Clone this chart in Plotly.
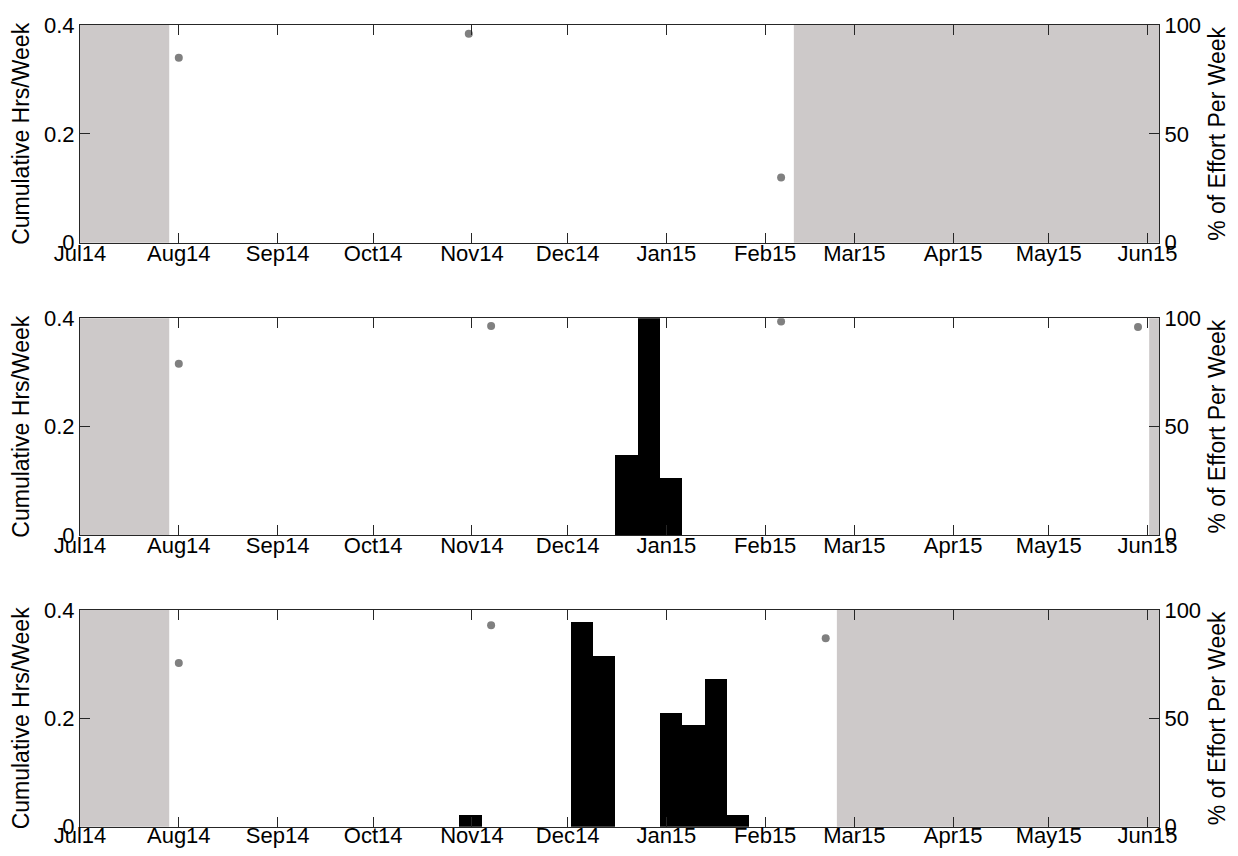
import pandas as pd
import plotly.graph_objects as go

# x-axis span and month ticks
x_start = "2014-07-01"
x_end = "2015-06-04 14:00"

# weekly cumulative hours (week start dates) per panel
weeks_1 = []
hours_1 = []
weeks_2 = ["2014-12-16", "2014-12-23", "2014-12-30"]
hours_2 = [0.148, 0.40, 0.105]
weeks_3 = ["2014-10-28", "2014-12-02", "2014-12-09", "2014-12-30",
           "2015-01-06", "2015-01-13", "2015-01-20"]
hours_3 = [0.021, 0.377, 0.315, 0.21, 0.188, 0.272, 0.021]

# % of effort per week (grey dots)
eff_dates_1 = ["2014-08-01", "2014-10-31", "2015-02-06"]
eff_pct_1 = [85, 96, 30]
eff_dates_2 = ["2014-08-01", "2014-11-07", "2015-02-06", "2015-05-29"]
eff_pct_2 = [79, 96.5, 98.5, 96]
eff_dates_3 = ["2014-08-01", "2014-11-07", "2015-02-20"]
eff_pct_3 = [75.5, 93, 87]

# periods without recording effort (grey shading)
off_1 = [("2014-07-01", "2014-07-29"), ("2015-02-10", x_end)]
off_2 = [("2014-07-01", "2014-07-29"), ("2015-06-01 12:00", x_end)]
off_3 = [("2014-07-01", "2014-07-29"), ("2015-02-23 12:00", x_end)]

panels = [
    (weeks_1, hours_1, eff_dates_1, eff_pct_1, off_1),
    (weeks_2, hours_2, eff_dates_2, eff_pct_2, off_2),
    (weeks_3, hours_3, eff_dates_3, eff_pct_3, off_3),
]

# page body has an 8px margin, so the figure is a bit smaller than the window
PAD = 8
W, H = 1238 - 2 * PAD, 856 - 2 * PAD
FONT = "Liberation Sans, Arial, sans-serif"
FS = 22
GREY = "#cdc9c9"
AX = "#262626"
week_ms = 7 * 24 * 3600 * 1000

# window-pixel boxes of the three panels (top, bottom)
boxes = [(25, 242.7), (318.3, 535), (610, 826.7)]
x0_px, x1_px = 80, 1159

fig = go.Figure()
layout = dict(
    width=W, height=H,
    margin=dict(l=0, r=0, t=0, b=0),
    paper_bgcolor="white", plot_bgcolor="white",
    showlegend=False,
    font=dict(family=FONT, size=FS, color="black"),
    bargap=0,
)
shapes = []

for i, (wk, hrs, edates, epct, off) in enumerate(panels):
    n = i + 1
    xa = "x" if n == 1 else f"x{n}"
    yl = 2 * n - 1
    yr = 2 * n
    yla = "y" if yl == 1 else f"y{yl}"
    yra = f"y{yr}"
    top, bot = boxes[i]
    dom_y = [1 - (bot - PAD) / H, 1 - (top - PAD) / H]

    centers = pd.to_datetime(wk) + pd.Timedelta(hours=84)
    fig.add_trace(go.Bar(
        x=list(centers), y=hrs, width=[week_ms] * len(wk),
        marker=dict(color="black", line=dict(width=0)),
        xaxis=xa, yaxis=yla,
    ))
    fig.add_trace(go.Scatter(
        x=edates, y=epct, mode="markers",
        marker=dict(color="#808080", size=8),
        xaxis=xa, yaxis=yra,
    ))

    for s, e in off:
        shapes.append(dict(
            type="rect", xref=xa, yref=f"{yla} domain",
            x0=s, x1=e, y0=0, y1=1,
            fillcolor=GREY, line=dict(width=0), layer="below",
        ))

    xkey = "xaxis" if n == 1 else f"xaxis{n}"
    layout[xkey] = dict(
        domain=[(x0_px - PAD) / W, (x1_px - PAD) / W], anchor=yla,
        type="date", range=[x_start, x_end],
        tick0="2014-07-01", dtick="M1", tickformat="%b%y",
        ticks="inside", ticklen=10, tickcolor=AX,
        showline=True, linecolor=AX, linewidth=1, mirror="ticks",
        showgrid=False, zeroline=False, automargin=False,
        tickfont=dict(size=FS), ticklabelstandoff=-9 if n < 3 else -11,
    )
    ylkey = "yaxis" if yl == 1 else f"yaxis{yl}"
    layout[ylkey] = dict(
        domain=dom_y, anchor=xa, range=[0, 0.4],
        tickvals=[0, 0.2, 0.4], ticktext=["0", "0.2", "0.4"],
        ticks="inside", ticklen=10, tickcolor=AX,
        showline=True, linecolor=AX, linewidth=1,
        showgrid=False, zeroline=False, automargin=False,
        title=dict(text="Cumulative Hrs/Week", font=dict(size=23), standoff=18),
    )
    layout[f"yaxis{yr}"] = dict(
        domain=dom_y, anchor=xa, overlaying=yla, side="right",
        range=[0, 100], tickvals=[0, 50, 100],
        ticks="inside", ticklen=10, tickcolor=AX,
        showline=True, linecolor=AX, linewidth=1,
        showgrid=False, zeroline=False, automargin=False,
        title=dict(text="% of Effort Per Week", font=dict(size=23), standoff=10),
    )

layout["shapes"] = shapes
fig.update_layout(**layout)

fig.write_html("out.html")
